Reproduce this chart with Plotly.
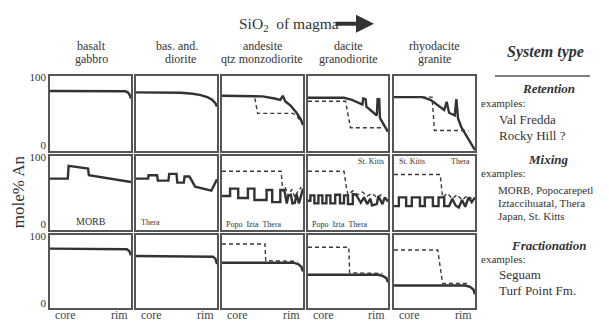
import plotly.graph_objects as go

W, H = 609, 324
PAGE_OFFSET = 8  # default body margin of the page that holds the figure

# ---------------- data (x: core=0 .. rim=1, y: mole% An) ----------------
COLUMN_TOP = ["basalt", "bas. and.", "andesite", "dacite", "rhyodacite"]
COLUMN_BOTTOM = ["gabbro", "diorite", "qtz monzodiorite", "granodiorite", "granite"]
Y_TICKS = [0, 100]
Y_TICKTEXT = ["0", "100"]
X_TICKTEXT = ["core", "rim"]

# Retention row
ret1_x = [0, 0.88, 0.93, 0.96, 0.98, 1.0]
ret1_y = [80, 80, 79.5, 78, 75, 69]
ret2_x = [0, 0.4, 0.55, 0.7, 0.8, 0.88, 0.94, 0.98, 1.0]
ret2_y = [78, 78, 77.5, 76, 74, 71, 67, 62, 57]
ret3_x = [0, 0.3, 0.5, 0.65, 0.72, 0.75, 0.78, 0.85, 0.92, 0.97, 1.0]
ret3_y = [73, 73, 72, 69, 67, 73, 65, 58, 48, 39, 30]
ret3d_x = [0, 0.4, 0.44, 0.88, 0.93, 0.97]
ret3d_y = [73, 73, 47, 47, 42, 36]
ret4_x = [0, 0.45, 0.55, 0.64, 0.68, 0.69, 0.72, 0.73, 0.8, 0.86, 0.87, 0.89, 0.9, 0.95, 1.0]
ret4_y = [70, 70, 67, 62, 60, 69, 68, 57, 50, 44, 68, 68, 40, 31, 20]
ret4d_x = [0, 0.47, 0.53, 0.93]
ret4d_y = [65, 65, 26, 26]
ret5_x = [0, 0.35, 0.45, 0.55, 0.62, 0.65, 0.68, 0.75, 0.77, 0.79, 0.83, 0.9, 1.0]
ret5_y = [71, 71, 67, 58, 52, 64, 48, 44, 68, 40, 27, 13, -7]
ret5d_x = [0, 0.47, 0.5, 0.92]
ret5d_y = [71, 71, 22, 22]

# Mixing row
mix1_x = [0, 0.22, 0.23, 0.35, 0.47, 0.48, 1.0]
mix1_y = [68, 68, 87, 85, 83, 73, 63]
mix2_x = [0, 0.15, 0.155, 0.26, 0.27, 0.4, 0.41, 0.5, 0.51, 0.59, 0.6, 0.66, 0.73, 0.93, 1.0]
mix2_y = [68, 68, 73, 73, 65, 65, 75, 75, 62, 62, 71, 71, 56, 50, 67]
mix3_x = [0, 0.1, 0.1, 0.2, 0.2, 0.32, 0.32, 0.4, 0.4, 0.55, 0.55, 0.62, 0.62, 0.72, 0.72,
          0.77, 0.8, 0.82, 0.85, 0.87, 0.9, 0.92, 0.95, 0.97, 1.0]
mix3_y = [42, 42, 53, 53, 39, 39, 53, 53, 36, 36, 51, 51, 33, 33, 51,
          51, 31, 43, 44, 31, 32, 45, 31, 40, 53]
mix3d_x = [0, 0.73, 0.75, 0.78, 0.82, 0.86, 0.9, 0.94, 0.98]
mix3d_y = [79, 79, 49, 55, 42, 52, 40, 50, 55]
mix4_x = [0, 0.03, 0.03, 0.08, 0.08, 0.13, 0.13, 0.18, 0.18, 0.23, 0.23, 0.28, 0.28, 0.34,
          0.34, 0.4, 0.4, 0.45, 0.45, 0.5, 0.5, 0.56, 0.56, 0.6, 0.66, 0.7, 0.74, 0.78,
          0.8, 0.86, 0.88, 0.93, 0.96, 1.0]
mix4_y = [35, 35, 43, 43, 31, 31, 43, 43, 31, 31, 43, 43, 31, 31,
          44, 44, 31, 31, 43, 43, 30, 30, 45, 44, 32, 40, 30, 38,
          28, 30, 42, 30, 40, 34]
mix4d_x = [0, 0.45, 0.48, 0.5, 0.56, 0.62, 0.68, 0.74, 0.8, 0.86, 0.92]
mix4d_y = [79, 79, 55, 44, 50, 44, 48, 42, 46, 40, 44]
mix5_x = [0, 0.06, 0.06, 0.15, 0.15, 0.22, 0.22, 0.32, 0.32, 0.38, 0.38, 0.48, 0.48,
          0.55, 0.55, 0.62, 0.62, 0.68, 0.72, 0.76, 0.8, 0.84, 0.88, 0.92, 0.96, 1.0]
mix5_y = [27, 27, 40, 40, 27, 27, 40, 40, 27, 27, 40, 40, 27,
          27, 40, 40, 27, 27, 38, 28, 25, 36, 26, 40, 33, 40]
mix5d_x = [0, 0.57, 0.6, 0.66, 0.72, 0.78, 0.84, 0.9, 0.96]
mix5d_y = [74, 74, 40, 46, 38, 44, 36, 42, 38]

# Fractionation row
frac1_x = [0, 0.9, 0.95, 0.98, 1.0]
frac1_y = [81, 81, 80, 77, 71]
frac2_x = [0, 0.9, 0.95, 0.98, 1.0]
frac2_y = [70, 70, 69, 66, 58]
frac3_x = [0, 0.88, 0.94, 0.98, 1.0]
frac3_y = [60, 60, 58, 54, 47]
frac3d_x = [0, 0.53, 0.54, 0.93]
frac3d_y = [88, 88, 63, 62]
frac4_x = [0, 0.88, 0.94, 0.98, 1.0]
frac4_y = [42, 42, 40, 37, 31]
frac4d_x = [0, 0.51, 0.52, 0.93]
frac4d_y = [83, 83, 45, 44]
frac5_x = [0, 0.88, 0.94, 0.98, 1.0]
frac5_y = [26, 26, 24, 20, 13]
frac5d_x = [0, 0.54, 0.6, 0.93]
frac5d_y = [79, 79, 29, 29]

SERIES = [
    # (row, col, x, y, dashed)
    (0, 0, ret1_x, ret1_y, False), (0, 1, ret2_x, ret2_y, False),
    (0, 2, ret3d_x, ret3d_y, True), (0, 2, ret3_x, ret3_y, False),
    (0, 3, ret4d_x, ret4d_y, True), (0, 3, ret4_x, ret4_y, False),
    (0, 4, ret5d_x, ret5d_y, True), (0, 4, ret5_x, ret5_y, False),
    (1, 0, mix1_x, mix1_y, False), (1, 1, mix2_x, mix2_y, False),
    (1, 2, mix3d_x, mix3d_y, True), (1, 2, mix3_x, mix3_y, False),
    (1, 3, mix4d_x, mix4d_y, True), (1, 3, mix4_x, mix4_y, False),
    (1, 4, mix5d_x, mix5d_y, True), (1, 4, mix5_x, mix5_y, False),
    (2, 0, frac1_x, frac1_y, False), (2, 1, frac2_x, frac2_y, False),
    (2, 2, frac3d_x, frac3d_y, True), (2, 2, frac3_x, frac3_y, False),
    (2, 3, frac4d_x, frac4d_y, True), (2, 3, frac4_x, frac4_y, False),
    (2, 4, frac5d_x, frac5d_y, True), (2, 4, frac5_x, frac5_y, False),
]

# ---------------- layout geometry (pixels in the page) ----------------
COL_PX = [(50, 131), (136, 217), (222, 303), (308, 388), (394, 475)]
ROW_PX = [(72, 148), (153, 228), (233, 308)]

def px(x):
    return (x - PAGE_OFFSET) / W

def py(y):
    return 1 - (y - PAGE_OFFSET) / H

FONT = "Liberation Serif, Times New Roman, serif"
INK = "#333333"

fig = go.Figure()
layout = {}
for r in range(3):
    for c in range(5):
        k = r * 5 + c + 1
        sfx = "" if k == 1 else str(k)
        xl, xr = COL_PX[c]
        yt, yb = ROW_PX[r]
        xa = dict(domain=[px(xl), px(xr)], range=[0, 1], showline=True, mirror=True,
                  linecolor="#555555", linewidth=1.6, showgrid=False, zeroline=False,
                  ticks="", anchor="y" + sfx, fixedrange=True, showticklabels=False)
        ya = dict(domain=[py(yb), py(yt)], range=[-8, 102], showline=True, mirror=True,
                  linecolor="#555555", linewidth=1.6, showgrid=False, zeroline=False,
                  ticks="", anchor="x" + sfx, fixedrange=True)
        if c == 0:
            ya.update(tickvals=Y_TICKS, ticktext=Y_TICKTEXT, showticklabels=True,
                      tickfont=dict(family=FONT, size=11, color="#333"))
        else:
            ya.update(showticklabels=False)
        layout["xaxis" + sfx] = xa
        layout["yaxis" + sfx] = ya

for r, c, xs, ys, dashed in SERIES:
    k = r * 5 + c + 1
    sfx = "" if k == 1 else str(k)
    fig.add_trace(go.Scatter(
        x=xs, y=ys, mode="lines", xaxis="x" + sfx, yaxis="y" + sfx,
        line=dict(color="#3a3a3a" if dashed else INK, width=1.4 if dashed else 2.4,
                  dash="4px,3px" if dashed else "solid"),
        showlegend=False, hoverinfo="skip"))

ann = []

def text(x, y, s, size=12, xanchor="center", **kw):
    ann.append(dict(x=px(x), y=py(y), xref="paper", yref="paper", text=s,
                    showarrow=False, xanchor=xanchor, yanchor="middle",
                    font=dict(family=FONT, size=size, color=kw.pop("color", INK)), **kw))

# title with arrow
text(237, 20, "SiO<sub>2</sub>  of magma", size=15.5, xanchor="left")
ann.append(dict(x=px(374), y=py(19), xref="paper", yref="paper", ax=-40, ay=0,
                axref="pixel", ayref="pixel", text="", showarrow=True, arrowhead=2,
                arrowsize=0.9, arrowwidth=4, arrowcolor="#333"))

# column headers
HDR_X = [91, 177, 262, 348, 434]
for i in range(5):
    text(HDR_X[i], 42, COLUMN_TOP[i], size=12)
    text(HDR_X[i] + (3 if i == 1 else 0), 55, COLUMN_BOTTOM[i], size=12)

# core / rim labels under the bottom row
for xl, xr in COL_PX:
    text(xl + 3, 315, X_TICKTEXT[0], size=12, xanchor="left", color="#444")
    text(xr - 1, 315, X_TICKTEXT[1], size=12, xanchor="right", color="#444")

# y axis title
ann.append(dict(x=px(18), y=py(190), xref="paper", yref="paper", text="mole% An",
                showarrow=False, textangle=-90, xanchor="center", yanchor="middle",
                font=dict(family=FONT, size=17, color=INK)))

# in-panel labels
text(91, 220, "MORB", size=10)
text(139, 221, "Thera", size=8, xanchor="left")
for xl in (224, 310):
    text(xl, 223, "Popo&nbsp;&nbsp;Izta&nbsp;&nbsp;Thera", size=8, xanchor="left")
text(386, 159, "St. Kitts", size=8, xanchor="right")
text(397, 159, "St. Kitts", size=8, xanchor="left")
text(472, 159, "Thera", size=8, xanchor="right")

# right legend
text(545, 48, "<b><i>System type</i></b>", size=16)
text(548, 85, "<b><i>Retention</i></b>", size=13)
text(479, 99, "examples:", size=11, xanchor="left")
text(497, 116, "Val Fredda", size=13, xanchor="left")
text(497, 132, "Rocky Hill ?", size=13, xanchor="left")

text(548, 157, "<b><i>Mixing</i></b>", size=13)
text(479, 171, "examples:", size=11, xanchor="left")
text(496, 188, "MORB, Popocarepetl", size=11, xanchor="left")
text(496, 201, "Iztaccihuatal, Thera", size=11, xanchor="left")
text(496, 214, "Japan, St. Kitts", size=11, xanchor="left")

text(548, 244, "<b><i>Fractionation</i></b>", size=13)
text(479, 258, "examples:", size=11, xanchor="left")
text(497, 274, "Seguam", size=13, xanchor="left")
text(497, 290, "Turf Point Fm.", size=13, xanchor="left")

shapes = [dict(type="line", xref="paper", yref="paper", x0=px(495), x1=px(590),
               y0=py(72), y1=py(72), line=dict(color="#555", width=1.5))]

fig.update_layout(
    width=W, height=H, margin=dict(l=0, r=0, t=0, b=0),
    paper_bgcolor="white", plot_bgcolor="white",
    annotations=ann, shapes=shapes, showlegend=False,
    **layout)

fig.write_html("out.html")
